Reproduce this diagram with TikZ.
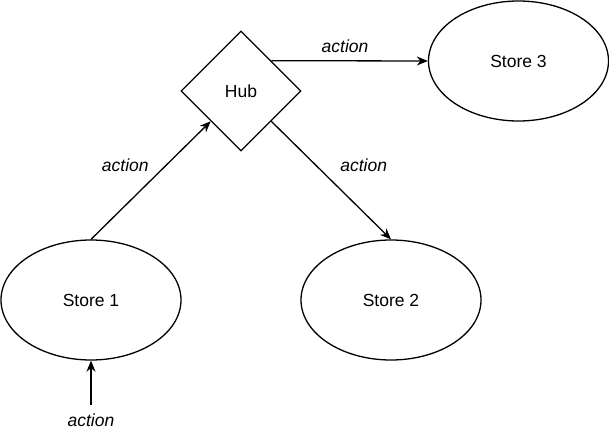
\documentclass[tikz,border=0pt]{standalone}
\usepackage{fontspec}
\setmainfont{Liberation Sans}
\usetikzlibrary{shapes.geometric,arrows.meta,calc}
\begin{document}
\begin{tikzpicture}[x=1pt,y=-1pt,
  every node/.style={font=\fontsize{17.5}{21}\selectfont},
  store/.style={ellipse,draw,line width=1.3pt,minimum width=180pt,minimum height=120pt,inner sep=0pt},
  hubbox/.style={diamond,draw,line width=1.3pt,minimum width=120pt,minimum height=120pt,inner sep=0pt,aspect=1},
  conn/.style={line width=1.3pt,-{Stealth[length=11pt,width=9pt,inset=3.5pt]}},
  lbl/.style={font=\fontsize{17.5}{21}\selectfont\itshape}]
\useasboundingbox (0,0) rectangle (609,438);
\node[hubbox] (hub) at (241,91) {Hub};
\node[store] (s1) at (91,300) {Store 1};
\node[store] (s2) at (391,300) {Store 2};
\node[store] (s3) at (518.5,61) {Store 3};
\coordinate (src) at (91,405);
\draw[conn] (s1.north) -- ($(hub.west)!0.5!(hub.south)$)
  node[lbl,pos=0.5,xshift=-25.5pt,yshift=15.5pt] (l1) {action};
\draw[conn] ($(hub.east)!0.5!(hub.south)$) -- (s2.north)
  node[lbl,pos=0.5,xshift=32.5pt,yshift=15.5pt] (l2) {action};
\draw[conn] ($(hub.east)!0.5!(hub.north)$) -- (s3.west)
  node[lbl,pos=0.5,xshift=-4.5pt,yshift=15pt] (l3) {action};
\draw[conn] (src) -- (s1.south);
\node[lbl] (l4) at (91,420) {action};
\end{tikzpicture}
\end{document}
